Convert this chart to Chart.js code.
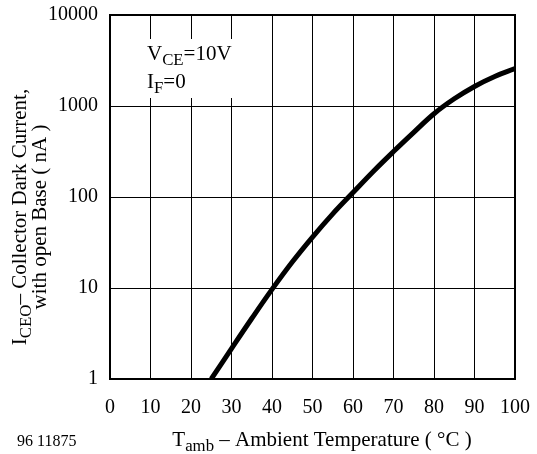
<!DOCTYPE html>
<html lang="en">
<head>
    <meta charset="UTF-8">
    <title>Collector Dark Current vs Ambient Temperature</title>
    <script src="https://cdn.jsdelivr.net/npm/chart.js"></script>
    <style>
        html, body { margin: 0; padding: 0; background: #fff; }
        #wrap { width: 537px; height: 454px; }
    </style>
</head>
<body>
    <div id="wrap">
        <canvas id="darkChart" width="537" height="454"></canvas>
    </div>
    <script>
        // values
        const temps = [25, 30, 35, 40, 45, 50, 55, 60, 65, 70, 75, 80, 85, 90, 95, 100];
        const darkCurrent = [1, 2.16, 4.62, 9.66, 19.3, 36.3, 65.3, 112, 191, 316, 513, 822, 1200, 1640, 2110, 2570];
        const yTicks = [1, 10, 100, 1000, 10000];

        const FONT = '"Liberation Serif", "Times New Roman", serif';

        // draws a line of text with subscripts, e.g. [['I'], ['CEO', true], ['– ...']]
        function drawParts(ctx, parts, x, y, size, align) {
            let total = 0;
            parts.forEach(p => {
                ctx.font = (p[1] ? size * 0.8 : size) + 'px ' + FONT;
                total += ctx.measureText(p[0]).width;
            });
            let cx = align === 'center' ? x - total / 2 : x;
            parts.forEach(p => {
                ctx.font = (p[1] ? size * 0.8 : size) + 'px ' + FONT;
                ctx.fillText(p[0], cx, p[1] ? y + size * 0.25 : y);
                cx += ctx.measureText(p[0]).width;
            });
        }

        const extras = {
            id: 'extras',
            beforeDatasetsDraw(chart) {
                const { ctx, chartArea: a } = chart;
                // white box behind the condition text
                ctx.save();
                ctx.fillStyle = '#fff';
                ctx.fillRect(a.left + 1, 39, 150, 59);
                ctx.restore();
            },
            afterDraw(chart) {
                const { ctx, chartArea: a } = chart;
                ctx.save();
                ctx.strokeStyle = '#000';
                ctx.lineWidth = 2;
                ctx.strokeRect(a.left, a.top, a.right - a.left, a.bottom - a.top);

                ctx.fillStyle = '#000';
                ctx.textBaseline = 'alphabetic';
                ctx.textAlign = 'left';
                drawParts(ctx, [['V'], ['CE', true], ['=10V']], 147, 60, 21, 'left');
                drawParts(ctx, [['I'], ['F', true], ['=0']], 147, 88, 21, 'left');

                // x axis title and figure number
                drawParts(ctx, [['T'], ['amb', true], [' – Ambient Temperature ( °C )']], 322, 446, 21, 'center');
                ctx.font = '16px ' + FONT;
                ctx.fillText('96 11875', 17, 446);

                // y axis title, rotated
                ctx.translate(0, 217);
                ctx.rotate(-Math.PI / 2);
                drawParts(ctx, [['I'], ['CEO', true], ['– Collector Dark Current,']], 0, 26, 21, 'center');
                drawParts(ctx, [['with open Base ( nA )']], 0, 46, 21, 'center');
                ctx.restore();
            }
        };

        const ctx = document.getElementById('darkChart').getContext('2d');
        new Chart(ctx, {
            type: 'line',
            data: {
                datasets: [{
                    data: temps.map((t, i) => ({ x: t, y: darkCurrent[i] })),
                    borderColor: '#000',
                    borderWidth: 5,
                    pointRadius: 0,
                    tension: 0.4,
                    fill: false
                }]
            },
            options: {
                responsive: false,
                animation: false,
                layout: { padding: { left: 0, right: 22, top: 15, bottom: 0 } },
                plugins: { legend: { display: false }, tooltip: { enabled: false } },
                scales: {
                    x: {
                        type: 'linear',
                        min: 0,
                        max: 100,
                        afterFit: s => { s.height = 75; s.paddingLeft = 0; s.paddingRight = 0; },
                        ticks: { stepSize: 10, color: '#000', padding: 17, font: { family: FONT, size: 20 } },
                        grid: { color: '#000', lineWidth: 1, drawTicks: false },
                        border: { display: false }
                    },
                    y: {
                        type: 'logarithmic',
                        min: 1,
                        max: 10000,
                        afterFit: s => { s.width = 110; s.paddingTop = 0; s.paddingBottom = 0; },
                        afterBuildTicks: s => { s.ticks = yTicks.map(v => ({ value: v })); },
                        ticks: {
                            color: '#000',
                            padding: 12,
                            font: { family: FONT, size: 20 },
                            callback: v => String(v)
                        },
                        grid: { color: '#000', lineWidth: 1, drawTicks: false },
                        border: { display: false }
                    }
                }
            },
            plugins: [extras]
        });
    </script>
</body>
</html>
